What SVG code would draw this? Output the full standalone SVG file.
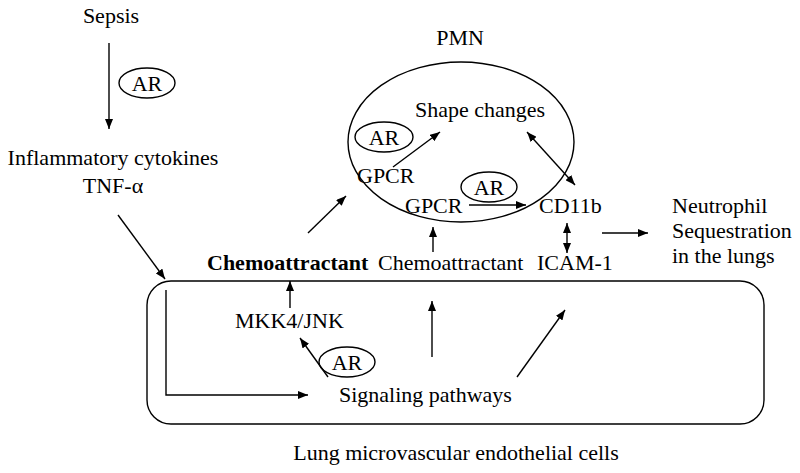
<svg xmlns="http://www.w3.org/2000/svg" width="800" height="473" viewBox="0 0 800 473">
<defs>
<marker id="ah" viewBox="0 0 10 8" refX="10" refY="4" markerWidth="10" markerHeight="8" markerUnits="userSpaceOnUse" orient="auto-start-reverse">
<path d="M0,0 L10,4 L0,8 Z" fill="#000"/>
</marker>
<style>
text{font-family:"Liberation Serif","Times New Roman",serif;font-size:22px;fill:#000}
.m{text-anchor:middle}
.b{font-weight:bold}
.sh{fill:none;stroke:#000;stroke-width:1.4}
.c{fill:none;stroke:#000;stroke-width:1.4;marker-end:url(#ah)}
.d{fill:none;stroke:#000;stroke-width:1.4;marker-end:url(#ah);marker-start:url(#ah)}
</style>
</defs>
<rect width="800" height="473" fill="#fff"/>
<g id="endothelial-box"><rect class="sh" x="147" y="281" width="617" height="143" rx="24" ry="24"/></g>
<g id="pmn-cell"><ellipse class="sh" cx="461" cy="142" rx="113" ry="80"/></g>
<g id="sepsis"><text class="m" x="111" y="23">Sepsis</text></g>
<g id="ar1"><ellipse class="sh" cx="147" cy="83" rx="28" ry="15"/><text class="m" x="147" y="91">AR</text></g>
<g id="cytokines"><text class="m" x="113" y="165">Inflammatory cytokines</text><text class="m" x="113" y="193">TNF-α</text></g>
<g id="chemo-bold"><text class="b" x="207" y="270">Chemoattractant</text></g>
<g id="chemo"><text x="378" y="270">Chemoattractant</text></g>
<g id="icam"><text x="537" y="270">ICAM-1</text></g>
<g id="pmn-label"><text class="m" x="460" y="45">PMN</text></g>
<g id="shape"><text x="415" y="117">Shape changes</text></g>
<g id="ar2"><ellipse class="sh" cx="384" cy="137" rx="29" ry="15"/><text class="m" x="384" y="145">AR</text></g>
<g id="gpcr1"><text x="357" y="183">GPCR</text></g>
<g id="gpcr2"><text x="405" y="213">GPCR</text></g>
<g id="ar3"><ellipse class="sh" cx="489" cy="187" rx="28" ry="15"/><text class="m" x="489" y="195">AR</text></g>
<g id="cd11b"><text x="539" y="213">CD11b</text></g>
<g id="neutrophil"><text x="672" y="213">Neutrophil</text><text x="672" y="238">Sequestration</text><text x="672" y="263">in the lungs</text></g>
<g id="mkk"><text x="235" y="328">MKK4/JNK</text></g>
<g id="ar4"><ellipse class="sh" cx="347" cy="362" rx="28" ry="15"/><text class="m" x="347" y="370">AR</text></g>
<g id="signaling"><text x="339" y="402">Signaling pathways</text></g>
<g id="lung-label"><text class="m" x="456" y="460">Lung microvascular endothelial cells</text></g>
<g id="connectors">
<line class="c" x1="109" y1="43" x2="109" y2="129"/>
<line class="c" x1="118" y1="215" x2="165" y2="279"/>
<line class="c" x1="308" y1="233" x2="346" y2="196"/>
<line class="c" x1="433" y1="252" x2="433" y2="227"/>
<line class="c" x1="393" y1="167" x2="440" y2="132"/>
<line class="c" x1="469" y1="205" x2="526" y2="205"/>
<line class="d" x1="527" y1="132" x2="575" y2="185"/>
<line class="d" x1="567" y1="223" x2="567" y2="253"/>
<line class="c" x1="602" y1="233" x2="648" y2="233"/>
<line class="c" x1="290" y1="308" x2="290" y2="281"/>
<line class="c" x1="328" y1="377" x2="300" y2="338"/>
<polyline class="c" points="166,290 166,395 308,395"/>
<line class="c" x1="432" y1="357" x2="432" y2="301"/>
<line class="c" x1="517" y1="377" x2="565" y2="310"/>
</g>
</svg>
